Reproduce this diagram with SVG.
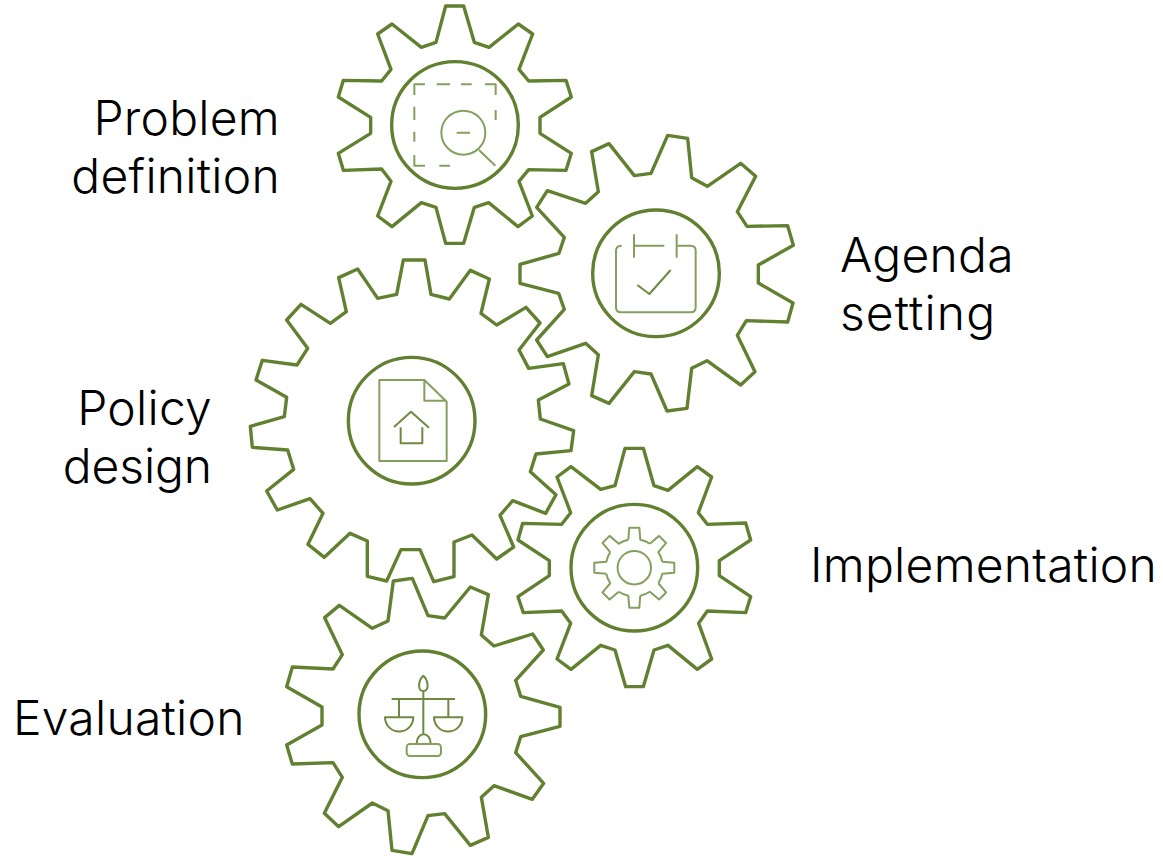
<svg xmlns="http://www.w3.org/2000/svg" width="1163" height="856" viewBox="0 0 1163 856">
<style>
.gear,.ring{fill:none;stroke:#618030;stroke-width:3.4;stroke-linejoin:round;vector-effect:non-scaling-stroke}
.icon{fill:none;stroke:#84a05e;stroke-width:2;stroke-linejoin:round;vector-effect:non-scaling-stroke}
.dark{stroke:#6d8a40}
text{font-family:Inter,"Liberation Sans",sans-serif;font-weight:300;font-size:48px;letter-spacing:.25px;fill:#000}
</style>
<defs>
<path id="tooth" class="icon" d="M-6-28L-5-40L5-40L6-28A28.6 28.6 0 0 1 15.56-24.04"/>
</defs>
<rect width="1163" height="856" fill="#fff"/>
<g id="connectors"></g>

<g id="problem-definition">
<g transform="translate(330 0) scale(.33333)">
<polygon class="gear" points="347,18 401,18 433,127 477,142 565,72 608,102 567,208 596,243 708,241 724,291 630,352 630,400 724,460 708,511 596,509 567,544 607,648 564,680 476,608 433,622 401,730 347,730 318,622 274,608 186,680 143,648 183,544 155,507 40,511 25,460 122,400 122,352 25,291 40,241 155,243 183,208 143,102 186,72 274,142 318,127"/>
<circle class="ring" cx="375" cy="375" r="190"/>
<path class="icon" d="M253 285V253H285M320 253H360M393 253H425M465 253H497V285M497 330V360M360 497H328M285 497H253V465M253 425V395M253 360V320"/>
<circle class="icon" cx="400" cy="398" r="66"/>
<path class="icon" d="M380 398H420M447 450L496 497"/>
</g>
<text x="280" y="135" text-anchor="end">Problem</text>
<text x="280" y="193" text-anchor="end">definition</text>
</g>

<g id="agenda-setting">
<g transform="translate(515 130) scale(.33333)">
<polygon class="gear" points="458,16 518,25 530,143 577,169 677,100 722,139 667,245 696,289 818,287 835,346 730,405 730,459 834,519 818,576 694,572 667,616 720,725 677,765 576,692 530,715 516,835 456,843 408,732 358,725 282,820 230,797 250,674 212,640 97,680 65,630 148,538 131,490 15,460 15,403 132,370 148,322 65,232 97,182 212,220 250,185 230,65 282,41 358,137 408,130"/>
<circle class="ring" cx="423" cy="430" r="190"/>
<path class="icon" d="M320 347Q303 347 303 362V532Q303 547 318 547H527Q542 547 542 532V362Q542 347 527 347H485M357 347H448M357 313V383M485 313V383"/>
<path class="icon dark" d="M367 465L403 492L467 420"/>
</g>
<text x="840" y="272" letter-spacing="0">Agenda</text>
<text x="840" y="330" style="letter-spacing:1.1px">setting</text>
</g>

<g id="policy-design">
<g transform="translate(245 255) scale(.33333)">
<polygon class="gear" points="475,15 540,15 558,118 613,132 676,46 733,72 708,175 755,210 843,157 885,204 822,285 851,340 955,326 972,387 880,435 886,492 986,527 978,587 873,597 856,650 933,719 902,775 803,737 765,781 806,876 755,912 681,840 627,861 627,965 566,980 525,884 468,884 425,978 367,964 367,858 315,835 238,907 189,868 234,775 195,731 97,765 65,708 146,643 128,585 22,577 16,514 118,485 125,427 33,375 52,316 156,330 188,280 125,195 168,148 256,205 304,170 281,68 338,42 398,130 455,118"/>
<circle class="ring" cx="500" cy="497" r="190"/>
<path class="icon" d="M403 375H538L605 440V618H403ZM538 375V437H605"/>
<path class="icon dark" d="M447 516L498 470L552 518M467 517V565H532V517"/>
</g>
<text x="212" y="425" text-anchor="end">Policy</text>
<text x="212" y="483" text-anchor="end" style="letter-spacing:-.1px">design</text>
</g>

<g id="implementation">
<g transform="translate(510 445) scale(.33333)">
<polygon class="gear" points="345,10 400,10 432,122 474,136 562,65 605,96 565,203 592,238 707,234 722,285 628,347 628,392 722,455 707,503 592,498 566,535 605,642 562,673 474,601 432,615 400,725 347,725 315,615 272,601 183,673 141,642 182,535 155,498 40,503 24,455 118,392 118,347 24,285 38,235 155,238 182,203 141,96 183,65 272,133 315,122"/>
<circle class="ring" cx="373" cy="368" r="190"/>
</g>
<circle class="icon" cx="634.3" cy="567.7" r="16.7"/>
<use href="#tooth" transform="translate(634.3 567.7)"/>
<use href="#tooth" transform="translate(634.3 567.7) rotate(45)"/>
<use href="#tooth" transform="translate(634.3 567.7) rotate(90)"/>
<use href="#tooth" transform="translate(634.3 567.7) rotate(135)"/>
<use href="#tooth" transform="translate(634.3 567.7) rotate(180)"/>
<use href="#tooth" transform="translate(634.3 567.7) rotate(225)"/>
<use href="#tooth" transform="translate(634.3 567.7) rotate(270)"/>
<use href="#tooth" transform="translate(634.3 567.7) rotate(315)"/>
<text x="810" y="582">Implementation</text>
</g>

<g id="evaluation">
<g transform="translate(280 575) scale(.33333)">
<polygon class="gear" points="340,18 397,10 444,122 494,129 571,36 625,59 604,180 642,213 758,177 790,225 707,316 722,364 840,397 840,454 722,485 707,533 791,625 757,673 642,632 604,667 625,787 571,811 494,716 444,722 396,836 336,826 324,707 277,684 176,755 133,715 187,607 159,563 37,567 20,510 126,450 126,396 20,335 37,276 159,282 187,239 134,128 178,91 277,160 324,138"/>
<circle class="ring" cx="427" cy="418" r="190"/>
<path class="icon dark" d="M335 372H525M430 348V478M357 372V425M505 372V425M315 427H400A42.500 42.500 0 0 1 315 427ZM462 427H547A42.500 42.500 0 0 1 462 427ZM430 302C444 314 450 348 430 348C410 348 416 314 430 302ZM410 505A21 27 0 0 1 452 505"/>
<rect class="icon" x="380" y="507" width="103" height="36" rx="10"/>
</g>
<text x="13" y="735">Evaluation</text>
</g>
</svg>
